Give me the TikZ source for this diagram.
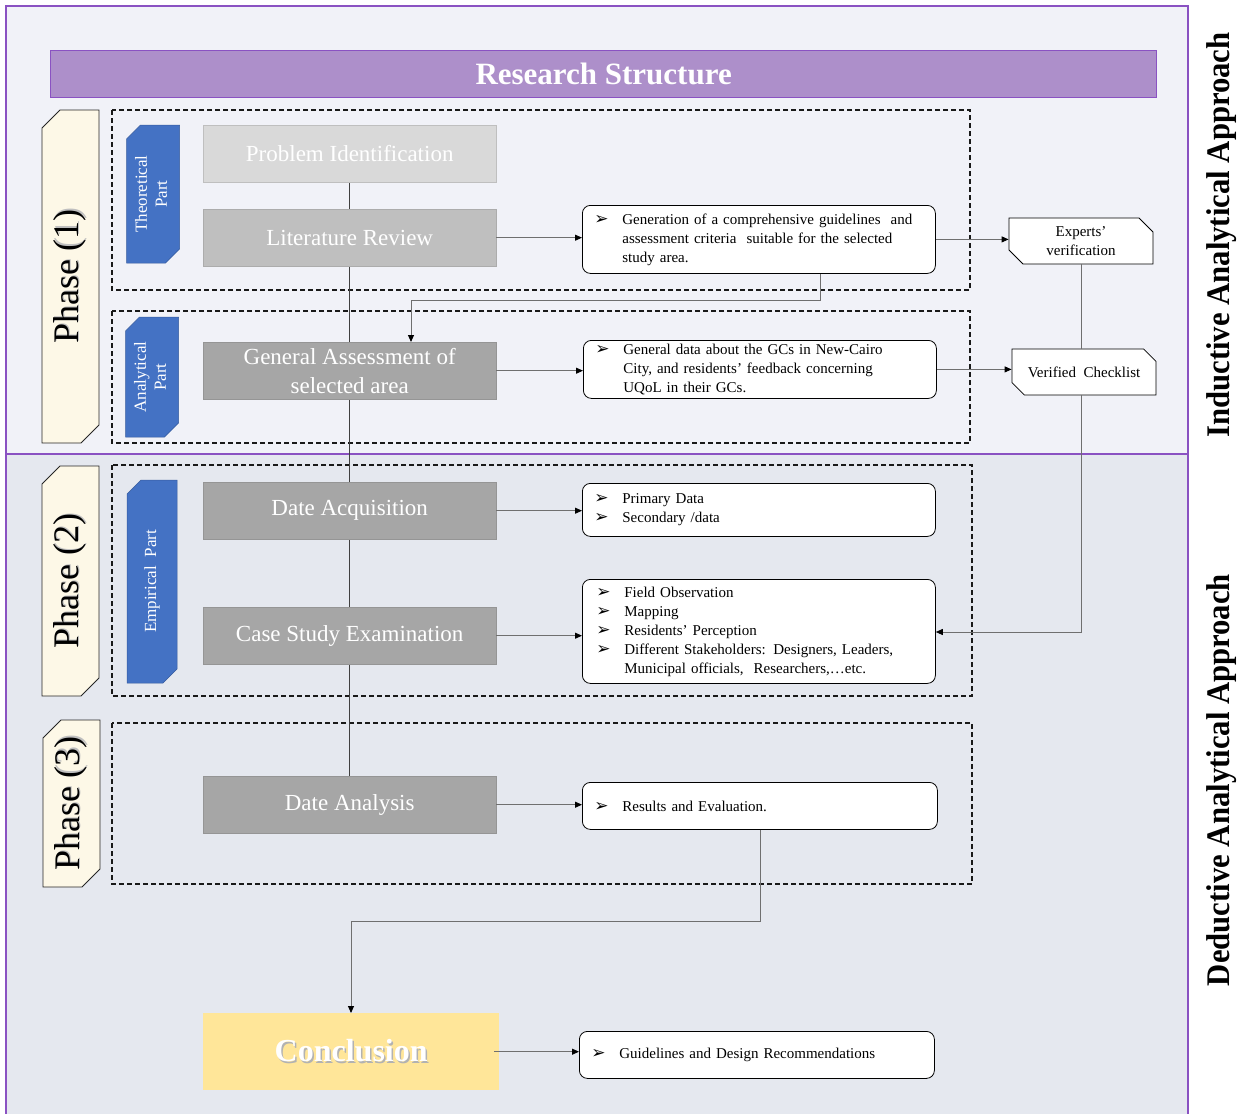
\documentclass[tikz,border=0pt]{standalone}
\usepackage{fontspec}
\usepackage{graphicx}
\setmainfont{Liberation Serif}
\newfontfamily\dvsans{DejaVu Sans}
\usetikzlibrary{arrows.meta,shapes.misc}

\definecolor{bgtop}{HTML}{F1F2F8}
\definecolor{bgbot}{HTML}{E5E8EF}
\definecolor{frameviolet}{HTML}{8A52C2}
\definecolor{titleviolet}{HTML}{AD8FCA}
\definecolor{cream}{HTML}{FDF8E7}
\definecolor{tabblue}{HTML}{4472C4}
\definecolor{greyA}{HTML}{D9D9D9}
\definecolor{greyB}{HTML}{BFBFBF}
\definecolor{greyC}{HTML}{A6A6A6}
\definecolor{concyellow}{HTML}{FFE699}
\definecolor{linegrey}{HTML}{6F6F6F}

% bullet marker and hanging indent for the list boxes
\newcommand\bul{\makebox[28pt][l]{\dvsans\fontsize{17}{17}\selectfont ➢}}
\newcommand\ind{\hspace*{28pt}}
% text with a soft drop shadow
\newcommand\shadowed[3]{\makebox[0pt][l]{\hspace{#2}\raisebox{-#2}{\textcolor{#3}{#1}}}#1}

\pgfdeclarelayer{back}
\pgfdeclarelayer{mid}
\pgfsetlayers{back,mid,main}

\tikzset{
  stage/.style={anchor=north west, inner sep=0pt, text=white,
    font=\fontsize{23}{29}\selectfont, align=center},
  listbox/.style={draw=black, line width=0.8pt, rounded corners=8pt, fill=white,
    anchor=north west, inner xsep=12pt, inner ysep=0pt, align=left,
    font=\fontsize{15}{19}\selectfont},
  phasetab/.style={chamfered rectangle, chamfered rectangle corners={north west,south east},
    chamfered rectangle xsep=9pt, chamfered rectangle ysep=9pt,
    draw=black!85, line width=0.9pt, fill=cream, inner sep=0pt,
    font=\fontsize{36}{36}\selectfont},
  parttab/.style={chamfered rectangle, chamfered rectangle corners={north west,south east},
    chamfered rectangle xsep=7pt, chamfered rectangle ysep=7pt,
    draw=tabblue!80!black, line width=0.5pt, fill=tabblue, inner sep=0pt,
    text=white, font=\fontsize{17}{19}\selectfont, align=center},
  checkbox/.style={chamfered rectangle, chamfered rectangle corners={north east,south west},
    chamfered rectangle xsep=7pt, chamfered rectangle ysep=7pt,
    draw=black, line width=0.8pt, fill=white, inner sep=0pt,
    minimum width=144pt, minimum height=46pt,
    font=\fontsize{15}{19}\selectfont, align=center},
  groupbox/.style={draw=black!90, line width=1.2pt, dash pattern=on 5pt off 3pt},
  conn/.style={draw=linegrey, line width=0.9pt, -{Triangle[length=7pt,width=6pt,fill=black,color=black]}},
  plainline/.style={draw=linegrey, line width=0.9pt},
  spine/.style={draw=black!75, line width=0.8pt},
  sidelabel/.style={rotate=90, font=\bfseries\fontsize{33}{33}\selectfont, inner sep=0pt}
}

\begin{document}
\begin{tikzpicture}[x=1pt,y=-1pt]
\useasboundingbox (0,0) rectangle (1251,1114);

% background panels and frame
\begin{pgfonlayer}{back}
  \fill[white] (0,0) rectangle (1251,1114);
  \fill[bgtop] (6,6) rectangle (1188,454);
  \fill[bgbot] (6,454) rectangle (1188,1114);
  \draw[frameviolet, line width=1.3pt] (6,1114) -- (6,6) -- (1188,6) -- (1188,1114);
  \draw[frameviolet, line width=1.6pt] (6,454) -- (1188,454);
  % dashed grouping frames
  \draw[groupbox] (112,110) rectangle (970,290);
  \draw[groupbox] (112,311) rectangle (970,443);
  \draw[groupbox] (112,465) rectangle (972,696);
  \draw[groupbox] (112,723) rectangle (972,884);
\end{pgfonlayer}

% title bar
\node[draw=frameviolet, line width=1.3pt, fill=titleviolet, anchor=north west,
  minimum width=1106pt, minimum height=47pt, inner sep=0pt, text=white,
  font=\bfseries\fontsize{31}{31}\selectfont] (title) at (50,50) {Research Structure};

% phase tabs
\node[phasetab, minimum width=57pt, minimum height=333pt] (ph1) at (70.5,276.5)
  {\rotatebox{90}{\shadowed{Phase (1)}{1.2pt}{black!25}}};
\node[phasetab, minimum width=57pt, minimum height=230pt] (ph2) at (70.5,581)
  {\rotatebox{90}{\shadowed{Phase (2)}{1.2pt}{black!25}}};
\node[phasetab, minimum width=57pt, minimum height=167pt] (ph3) at (71.5,803.5)
  {\rotatebox{90}{\shadowed{Phase (3)}{1.2pt}{black!25}}};

% part tabs
\node[parttab, minimum width=50pt, minimum height=138pt] (theo) at (153,194)
  {\rotatebox{90}{\begin{tabular}{@{}c@{}}Theoretical\\[1pt] Part\end{tabular}}};
\node[parttab, minimum width=50pt, minimum height=120pt] (anal) at (152,377)
  {\rotatebox{90}{\begin{tabular}{@{}c@{}}Analytical\\[1pt] Part\end{tabular}}};
\node[parttab, minimum width=50pt, minimum height=203pt] (emp) at (152,581.5)
  {\rotatebox{90}{Empirical~ Part}};

% stage boxes
\node[stage, fill=greyA, draw=greyA!85!black!90, minimum width=293pt, minimum height=57pt] (pid) at (203,125) {Problem Identification};
\node[stage, fill=greyB, draw=greyB!90!black, minimum width=293pt, minimum height=57pt] (lit) at (203,209) {Literature Review};
\node[stage, fill=greyC, draw=greyC!90!black, minimum width=293pt, minimum height=57pt] (gen) at (203,342) {General Assessment of\\selected area};
\node[stage, fill=greyC, draw=greyC!90!black, minimum width=293pt, minimum height=57pt] (acq) at (203,482) {Date Acquisition};
\node[stage, fill=greyC, draw=greyC!90!black, minimum width=293pt, minimum height=57pt] (cse) at (203,607) {Case Study Examination};
\node[stage, fill=greyC, draw=greyC!90!black, minimum width=293pt, minimum height=57pt] (ana) at (203,776) {Date Analysis};
\node[stage, fill=concyellow, minimum width=296pt, minimum height=77pt,
  font=\bfseries\fontsize{32}{32}\selectfont] (conc) at (203,1013)
  {\shadowed{Conclusion}{1.5pt}{black!30}};

% spine through the stage boxes
\begin{pgfonlayer}{mid}
  \draw[spine] (pid.south) -- (ana.north);
\end{pgfonlayer}

% outcome boxes
\node[listbox, minimum width=353pt, minimum height=68pt, text width=329pt] (out1) at (582,205)
  {\bul Generation of a comprehensive guidelines~ and\\ \ind assessment criteria~ suitable for the selected\\ \ind study area.};
\node[listbox, minimum width=353pt, minimum height=58pt, text width=329pt] (out2) at (583,340)
  {\bul General data about the GCs in New-Cairo\\ \ind City, and residents’ feedback concerning\\ \ind UQoL in their GCs.};
\node[listbox, minimum width=353pt, minimum height=53pt, text width=329pt] (out3) at (582,483)
  {\bul Primary Data\\ \bul Secondary /data};
\node[listbox, minimum width=353pt, minimum height=104pt, text width=325pt, inner xsep=14pt] (out4) at (582,579)
  {\bul Field Observation\\ \bul Mapping\\ \bul Residents’ Perception\\ \bul Different Stakeholders: Designers, Leaders,\\ \ind Municipal officials,~ Researchers,\ldots etc.};
\node[listbox, minimum width=355pt, minimum height=47pt, text width=331pt] (out5) at (582,782)
  {\bul Results and Evaluation.};
\node[listbox, minimum width=355pt, minimum height=47pt, text width=331pt] (out6) at (579,1031)
  {\bul Guidelines and Design Recommendations};

% verification boxes
\node[checkbox] (exp) at (1081,241) {Experts’\\verification};
\node[checkbox] (chk) at (1084,372) {Verified~ Checklist};

% connectors
\draw[conn] (lit.east) -- (lit.east -| out1.west);
\draw[conn] (out1.east) -- (out1.east -| exp.west);
\coordinate (fb1) at (820,300);
\coordinate (fb2) at (411,300);
\draw[conn] (fb1 |- out1.south) -- (fb1) -- (fb2) -- (fb2 |- gen.north);
\draw[conn] (gen.east) -- (gen.east -| out2.west);
\draw[conn] (out2.east) -- (out2.east -| chk.west);
\draw[plainline] (exp.south) -- (exp.south |- chk.north);
\coordinate (vr) at (1081,632);
\draw[conn] (vr |- chk.south) -- (vr) -- (vr -| out4.east);
\draw[conn] (acq.east) -- (acq.east -| out3.west);
\draw[conn] (cse.east) -- (cse.east -| out4.west);
\draw[conn] (ana.east) -- (ana.east -| out5.west);
\coordinate (dn1) at (760,921);
\coordinate (dn2) at (351,921);
\draw[conn] (dn1 |- out5.south) -- (dn1) -- (dn2) -- (dn2 |- conc.north);
\draw[conn] ([xshift=-5pt]conc.east) -- (conc.east -| out6.west);

% approach labels
\node[sidelabel] (ind) at (1222,235) {\scalebox{0.93}[1]{Inductive Analytical Approach}};
\node[sidelabel] (ded) at (1222,780) {\scalebox{0.93}[1]{Deductive Analytical Approach}};
\end{tikzpicture}
\end{document}
